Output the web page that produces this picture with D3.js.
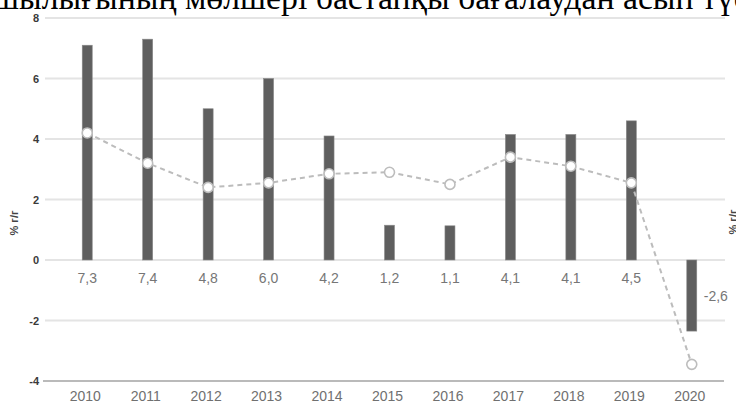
<!DOCTYPE html>
<html>
<head>
<meta charset="utf-8">
<script src="https://cdn.jsdelivr.net/npm/d3@7"></script>
<style>
  html, body { margin: 0; padding: 0; background: #fff; overflow: hidden; }
  svg { display: block; }
</style>
</head>
<body>
<div id="chart"></div>
<script>
const years = ['2010', '2011', '2012', '2013', '2014', '2015', '2016', '2017', '2018', '2019', '2020'];
const barValues = [7.1, 7.3, 5.0, 6.0, 4.1, 1.15, 1.13, 4.15, 4.15, 4.6, -2.35];
const barLabels = ['7,3', '7,4', '4,8', '6,0', '4,2', '1,2', '1,1', '4,1', '4,1', '4,5', '-2,6'];
const lineValues = [4.2, 3.2, 2.4, 2.55, 2.85, 2.9, 2.5, 3.4, 3.1, 2.55, -3.45];
const yTicks = [-4, -2, 0, 2, 4, 6, 8];
const titleText = 'тапшылығының мөлшері бастапқы бағалаудан асып түсті';

const W = 736;
const H = 403;
const BAR_W = 10;
const NARROW = '"Liberation Sans Narrow", "Arial Narrow", "Liberation Sans", sans-serif';

const svg = d3.select('#chart')
  .append('svg')
  .attr('width', W)
  .attr('height', H);

const x = d3.scaleBand().domain(years).range([57, 722]);
const y = d3.scaleLinear().domain([-4, 8]).range([381, 18]);
const cx = d => x(d) + x.bandwidth() / 2;

// gridlines
svg.append('g')
  .selectAll('line')
  .data(yTicks.filter(t => t !== -4))
  .enter()
  .append('line')
  .attr('x1', 45)
  .attr('x2', 725)
  .attr('y1', d => y(d))
  .attr('y2', d => y(d))
  .attr('stroke', '#e4e4e4')
  .attr('stroke-width', 2);

// bottom axis line
svg.append('line')
  .attr('x1', 43)
  .attr('x2', 724)
  .attr('y1', y(-4))
  .attr('y2', y(-4))
  .attr('stroke', '#a3a3a3')
  .attr('stroke-width', 1.5);

// y tick labels
svg.append('g')
  .selectAll('text')
  .data(yTicks)
  .enter()
  .append('text')
  .attr('x', 39)
  .attr('y', d => y(d))
  .attr('dy', '0.38em')
  .attr('text-anchor', 'end')
  .attr('font-family', NARROW)
  .attr('font-weight', 'bold')
  .attr('font-size', 11)
  .attr('fill', '#3a3a3a')
  .text(d => d);

// axis titles
svg.append('text')
  .attr('transform', 'translate(18,223) rotate(-90)')
  .attr('text-anchor', 'middle')
  .attr('font-family', NARROW)
  .attr('font-weight', 'bold')
  .attr('font-size', 11)
  .attr('fill', '#444')
  .text('% г/г');

svg.append('text')
  .attr('transform', 'translate(737,222) rotate(-90)')
  .attr('text-anchor', 'middle')
  .attr('font-family', NARROW)
  .attr('font-weight', 'bold')
  .attr('font-size', 11)
  .attr('fill', '#444')
  .text('% г/г');

// bars
svg.append('g')
  .selectAll('rect')
  .data(years)
  .enter()
  .append('rect')
  .attr('x', d => cx(d) - BAR_W / 2)
  .attr('width', BAR_W)
  .attr('y', (d, i) => y(Math.max(0, barValues[i])))
  .attr('height', (d, i) => Math.abs(y(barValues[i]) - y(0)))
  .attr('fill', '#5f5f5f')
  .attr('stroke', '#8a8a8a')
  .attr('stroke-width', 0.6);

// bar value labels
svg.append('g')
  .selectAll('text')
  .data(years)
  .enter()
  .append('text')
  .attr('x', (d, i) => (barValues[i] < 0 ? cx(d) + 12 : cx(d)))
  .attr('y', (d, i) => (barValues[i] < 0 ? y(barValues[i] / 2) + 5 : y(0) + 23))
  .attr('text-anchor', (d, i) => (barValues[i] < 0 ? 'start' : 'middle'))
  .attr('font-family', NARROW)
  .attr('font-size', 14)
  .attr('fill', '#767676')
  .text((d, i) => barLabels[i]);

// dashed line
const line = d3.line()
  .x((d, i) => cx(years[i]))
  .y(d => y(d));

svg.append('path')
  .datum(lineValues)
  .attr('d', line)
  .attr('fill', 'none')
  .attr('stroke', '#bcbcbc')
  .attr('stroke-width', 2)
  .attr('stroke-dasharray', '5,4');

svg.append('g')
  .selectAll('circle')
  .data(lineValues)
  .enter()
  .append('circle')
  .attr('cx', (d, i) => cx(years[i]))
  .attr('cy', d => y(d))
  .attr('r', 5)
  .attr('fill', '#fff')
  .attr('stroke', '#bdbdbd')
  .attr('stroke-width', 1.6);

// year labels
svg.append('g')
  .selectAll('text')
  .data(years)
  .enter()
  .append('text')
  .attr('x', d => cx(d) - 2)
  .attr('y', 401)
  .attr('text-anchor', 'middle')
  .attr('font-family', NARROW)
  .attr('font-size', 14)
  .attr('fill', '#707070')
  .text(d => d);

// clipped heading text from the page above
const title = svg.append('text')
  .attr('x', 0)
  .attr('y', 9)
  .attr('font-family', '"Liberation Serif", "Times New Roman", serif')
  .attr('font-size', 30)
  .attr('fill', '#000')
  .text(titleText);

const node = title.node();
const i1 = titleText.indexOf('мөлшері');
const i2 = titleText.indexOf('асып');
const span = node.getSubStringLength(i1, i2 - i1);
const fs = 30 * 438 / span;
title.attr('font-size', fs);
const offset = node.getSubStringLength(0, i1);
title.attr('x', 185 - offset);
</script>
</body>
</html>
